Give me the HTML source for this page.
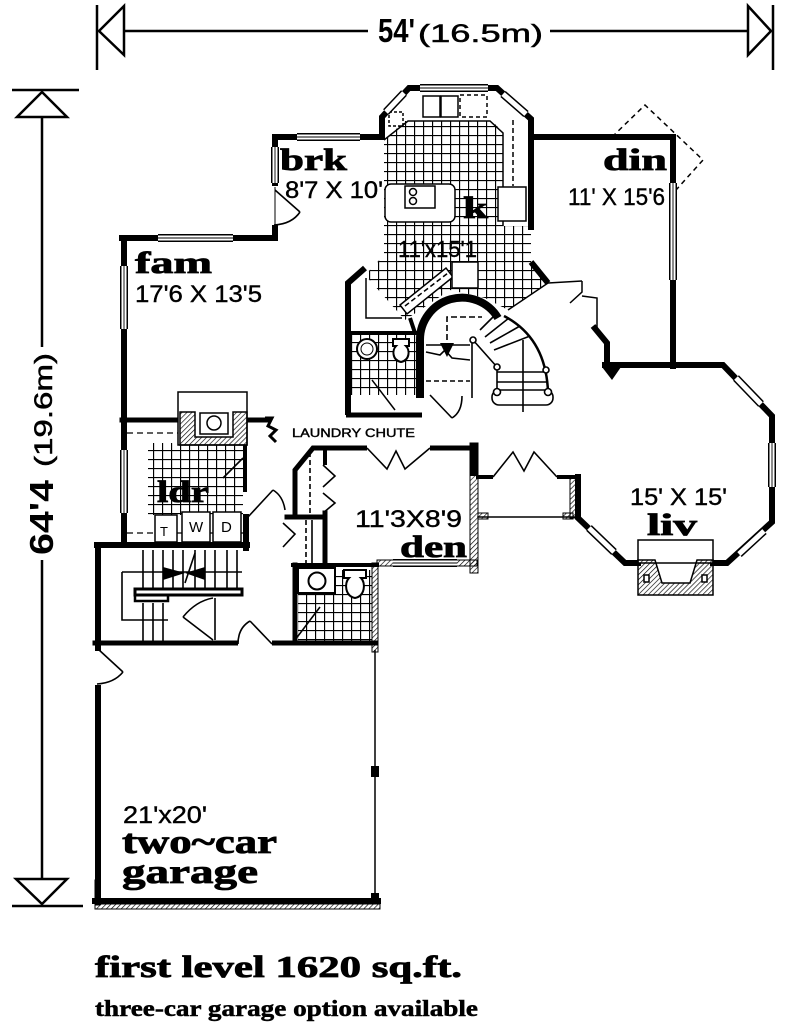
<!DOCTYPE html>
<html><head><meta charset="utf-8"><style>
html,body{margin:0;padding:0;background:#fff;}
svg{display:block;}
.s{font-family:"Liberation Sans",sans-serif;}
.b{font-family:"Liberation Serif",serif;font-weight:bold;}
</style></head><body>
<svg width="800" height="1033" viewBox="0 0 800 1033" xmlns="http://www.w3.org/2000/svg">
<defs>
<pattern id="tile" width="9" height="9" patternUnits="userSpaceOnUse"><path d="M0 0.5H9M0.5 0V9" stroke="#000" stroke-width="1.3" fill="none"/></pattern>
<pattern id="hatch" width="3.5" height="3.5" patternUnits="userSpaceOnUse" patternTransform="rotate(45)"><line x1="0" y1="0" x2="0" y2="3.5" stroke="#000" stroke-width="1.3"/></pattern>
</defs>
<rect width="800" height="1033" fill="#fff"/>

<!-- DIMENSIONS -->
<g stroke="#000" stroke-width="2.5" fill="none">
<line x1="97" y1="5" x2="97" y2="70"/>
<polygon points="99,31 124,6 124,55"/>
<line x1="124" y1="31" x2="368" y2="31"/>
<line x1="550" y1="31" x2="748" y2="31"/>
<polygon points="748,6 748,55 771,31"/>
<line x1="773" y1="5" x2="773" y2="70"/>
<line x1="12" y1="90" x2="79" y2="90"/>
<polygon points="42,92 17,117 67,117"/>
<line x1="42" y1="117" x2="42" y2="347"/>
<line x1="42" y1="560" x2="42" y2="879"/>
<polygon points="16,879 67,879 42,904"/>
<line x1="12" y1="906" x2="83" y2="906"/>
</g>
<text class="s" x="378" y="42" font-size="33" font-weight="bold" textLength="37" lengthAdjust="spacingAndGlyphs">54'</text>
<text class="s" x="418" y="42" font-size="25" stroke="#000" stroke-width="0.5" textLength="125" lengthAdjust="spacingAndGlyphs">(16.5m)</text>
<g transform="translate(53,555) rotate(-90)">
<text class="s" x="0" y="0" font-size="33" font-weight="bold" textLength="75" lengthAdjust="spacingAndGlyphs">64'4</text>
<text class="s" x="88" y="-1" font-size="25" stroke="#000" stroke-width="0.5" textLength="114" lengthAdjust="spacingAndGlyphs">(19.6m)</text>
</g>

<!-- TILED AREAS -->
<polygon fill="url(#tile)" points="384,140 405,121 492,121 503,132 503,226 531,226 531,262 547,283 508,310 485,298 450,290 420,310 405,320 365,275 384,255"/>
<rect x="351" y="335" width="66" height="60" fill="url(#tile)"/>
<rect x="148" y="443" width="95" height="72" fill="url(#tile)"/>
<rect x="298" y="570" width="74" height="71" fill="url(#tile)"/>

<!-- KITCHEN DETAILS -->
<g stroke="#000" fill="#fff" stroke-width="1.5">
<path d="M384,140 L408,121 H490 L503,133 V226" fill="none"/>
<rect x="385" y="184" width="70" height="38" rx="6"/>
<rect x="405" y="186" width="30" height="22" fill="#fff"/>
<circle cx="413" cy="192" r="3.5"/><circle cx="413" cy="201" r="3.5"/>
<rect x="423" y="96" width="17" height="21"/><rect x="441" y="96" width="17" height="21"/>
<rect x="460" y="95" width="27" height="22" stroke-dasharray="4,3"/>
<rect x="498" y="187" width="28" height="34"/>
<line x1="513" y1="120" x2="513" y2="186" stroke-dasharray="5,3"/>
<polygon points="400,305 446,268 453,277 407,314"/>
<line x1="405" y1="306" x2="448" y2="273" stroke-dasharray="5,3"/>
<rect x="452" y="262" width="26" height="26"/>
<rect x="389" y="112" width="14" height="14" fill="none" stroke-dasharray="3,2"/>
</g>
<!-- kitchen/powder room walls -->
<g stroke="#000" fill="none">
<path d="M420,398 V340 A42,42 0 0 1 498,318" stroke-width="8"/>
<path d="M348,415 V283 L365,268" stroke-width="6"/>
<line x1="350" y1="333" x2="418" y2="333" stroke-width="4"/>
<line x1="346" y1="415" x2="422" y2="415" stroke-width="5"/>
<polyline points="366,278 366,318 402,318" stroke-width="1.5"/>
<line x1="410" y1="318" x2="415" y2="333" stroke-width="4"/>
<path d="M531,262 L548,283" stroke-width="6"/>
<line x1="548" y1="283" x2="508" y2="310" stroke-width="1.5"/>
<polyline points="548,283 582,281" stroke-width="1.5"/>
<polyline points="570,303 582,292 582,281" stroke-width="1.5"/>
<polyline points="582,296 597,298 597,328" stroke-width="1.5"/>
<path d="M593,326 L607,343 V365" stroke-width="6"/>
</g>
<polygon points="602,367 621,367 612,380" fill="#000"/>
<!-- powder fixtures -->
<g stroke="#000" fill="#fff" stroke-width="2">
<circle cx="367" cy="349" r="10"/><circle cx="367" cy="349" r="6" stroke-width="1"/>
<path d="M393,339 h16 v7 h-3 c4,4 4,14 -5,16 c-9,-2 -9,-12 -5,-16 h-3z"/>
</g>
<line x1="372" y1="380" x2="395" y2="410" stroke="#000" stroke-width="1.5"/>
<!-- stairs -->
<g stroke="#000" fill="none" stroke-width="1.6">
<line x1="426" y1="345" x2="470" y2="345"/>
<line x1="426" y1="381" x2="470" y2="381" stroke-dasharray="5,3"/>
<polyline points="426,352 440,355 445,350 452,358 470,360"/>
<polyline points="447,340 447,317 482,317" stroke-dasharray="6,3"/>
<line x1="472" y1="340" x2="472" y2="398"/>
<line x1="473" y1="340" x2="497" y2="367"/>
<line x1="497" y1="367" x2="497" y2="392"/>
<path d="M504,316 Q546,338 548,392" stroke-width="2.5"/>
<line x1="480" y1="330" x2="497" y2="313"/>
<line x1="485" y1="337" x2="509" y2="318"/>
<line x1="490" y1="343" x2="520" y2="326"/>
<line x1="494" y1="350" x2="530" y2="336"/>
<line x1="497" y1="372" x2="546" y2="372"/>
<line x1="497" y1="382" x2="548" y2="382"/>
<line x1="523" y1="340" x2="523" y2="412"/>
<rect x="492" y="390" width="61" height="15" rx="7"/>
<circle cx="473" cy="340" r="3" fill="#fff"/><circle cx="497" cy="367" r="3" fill="#fff"/>
<circle cx="497" cy="392" r="3.5" fill="#fff"/><circle cx="548" cy="392" r="3.5" fill="#fff"/>
<circle cx="546" cy="370" r="3" fill="#fff"/>
<line x1="430" y1="395" x2="452" y2="418"/>
<path d="M462,396 Q462,412 452,418"/>
</g>
<polygon points="440,343 454,343 447,357" fill="#000"/>

<!-- EXTERIOR / MAIN WALLS -->
<g stroke="#000" fill="none" stroke-linecap="square" stroke-linejoin="miter">
<path d="M124,239 V545" stroke-width="6"/>
<path d="M122,238 H275 V137 H382 V117 L409,88 H497 L531,119 V227" stroke-width="6"/>
<path d="M531,137 H673 V366" stroke-width="6"/>
<path d="M605,365 H723 L772,416 V522 L727,563 H713" stroke-width="6"/>
<path d="M638,563 H625 L578,518 V477" stroke-width="6"/>
<path d="M97,545 H247" stroke-width="6"/>
<path d="M98,545 V902" stroke-width="6"/>
<path d="M95,643 H375" stroke-width="5"/>
<path d="M95,901 H378" stroke-width="6"/>
<path d="M122,420 H178" stroke-width="5"/>
<path d="M245,447 V490" stroke-width="4"/>
<path d="M246,517 V548" stroke-width="6"/>
<path d="M323,448 H367 M430,448 H472" stroke-width="5"/>
<path d="M325,513 V565" stroke-width="5"/>
<path d="M325,448 V463" stroke-width="4"/>
<path d="M295,517 V470 L313,448 H325" stroke-width="5"/>
<path d="M287,517 H325" stroke-width="5"/>
<path d="M295,565 V643" stroke-width="5"/>
<path d="M293,565 H377" stroke-width="4"/>
<path d="M478,477 H493 M557,477 H578" stroke-width="4"/>
<path d="M478,517 H575" stroke-width="1.5"/>
<path d="M247,420 H268" stroke-width="5"/>
</g>
<!-- laundry chute symbol -->
<polyline points="265,418 272,418 268,426 276,430 270,436 276,442" fill="none" stroke="#000" stroke-width="3"/>
<!-- hatched walls -->
<g stroke="#000" stroke-width="1">
<rect x="470" y="443" width="8" height="130" fill="url(#hatch)"/>
<rect x="377" y="560" width="100" height="6" fill="url(#hatch)"/>
<rect x="372" y="563" width="6" height="89" fill="url(#hatch)"/>
<rect x="570" y="477" width="9" height="41" fill="url(#hatch)"/>
<rect x="478" y="513" width="10" height="6" fill="url(#hatch)"/>
<rect x="563" y="513" width="10" height="6" fill="url(#hatch)"/>
<rect x="95" y="904" width="285" height="5" fill="url(#hatch)"/>
<rect x="95" y="880" width="5" height="25" fill="url(#hatch)"/>
</g>
<rect x="470" y="443" width="8" height="33" fill="#000"/>
<rect x="371" y="766" width="8" height="11" fill="#000"/>
<rect x="371" y="893" width="8" height="10" fill="#000"/>
<line x1="375" y1="650" x2="375" y2="898" stroke="#000" stroke-width="1.5"/>

<!-- WINDOWS (double-line) -->
<g fill="none" stroke-linecap="butt">
<g stroke="#000" stroke-width="8">
<path d="M158,238 H233"/><path d="M297,137 H360"/><path d="M275,147 V183"/>
<path d="M124,266 V329"/><path d="M124,450 V513"/>
<path d="M420,88 H488"/><path d="M386,112 L404,93"/><path d="M503,94 L526,114"/>
<path d="M673,183 V280"/><path d="M736,378 L761,404"/><path d="M772,443 V487"/>
<path d="M764,531 L739,554"/><path d="M614,552 L589,528"/><path d="M393,563 H457"/>
</g>
<g stroke="#fff" stroke-width="5">
<path d="M158,238 H233"/><path d="M297,137 H360"/><path d="M275,147 V183"/>
<path d="M124,266 V329"/><path d="M124,450 V513"/>
<path d="M420,88 H488"/><path d="M386,112 L404,93"/><path d="M503,94 L526,114"/>
<path d="M673,183 V280"/><path d="M736,378 L761,404"/><path d="M772,443 V487"/>
<path d="M764,531 L739,554"/><path d="M614,552 L589,528"/><path d="M393,563 H457"/>
</g>
<g stroke="#000" stroke-width="0.9">
<path d="M158,238 H233"/><path d="M297,137 H360"/><path d="M275,147 V183"/>
<path d="M124,266 V329"/><path d="M124,450 V513"/>
<path d="M420,88 H488"/><path d="M673,183 V280"/><path d="M772,443 V487"/><path d="M393,563 H457"/>
</g>
</g>

<!-- DOOR OPENINGS (white gaps) + swings -->
<rect x="271" y="186" width="9" height="39" fill="#fff"/>
<rect x="94" y="651" width="9" height="34" fill="#fff"/>
<rect x="238" y="639" width="34" height="8" fill="#fff"/>
<rect x="367" y="444" width="63" height="8" fill="#fff"/>
<rect x="493" y="473" width="64" height="8" fill="#fff"/>
<g stroke="#000" fill="none" stroke-width="1.6">
<line x1="275" y1="190" x2="300" y2="212"/><path d="M300,212 Q292,224 274,225"/>
<line x1="275" y1="187" x2="275" y2="225" stroke-width="1"/>
<line x1="98" y1="649" x2="123" y2="672"/><path d="M123,672 Q114,683 97,684"/>
<line x1="272" y1="644" x2="250" y2="621"/><path d="M250,621 Q238,628 238,644"/>
<polyline points="367,448 387,469 396,451 405,469 430,448"/>
<polyline points="493,477 513,452 524,471 534,452 557,477"/>
<line x1="248" y1="517" x2="273" y2="490"/><path d="M273,490 Q283,496 285,510"/>
<line x1="223" y1="478" x2="243" y2="458"/>
<polyline points="323,465 335,476 323,487" />
<polyline points="323,493 335,503 323,513"/>
<polyline points="283,523 295,534 283,547"/>
<line x1="310" y1="452" x2="310" y2="513" stroke-dasharray="5,3"/>
<line x1="306" y1="520" x2="306" y2="563" stroke-dasharray="5,3"/>
<line x1="312" y1="520" x2="312" y2="563"/>
<line x1="295" y1="640" x2="320" y2="607"/>
<line x1="213" y1="640" x2="183" y2="617"/><path d="M183,617 Q196,601 213,598"/>
<line x1="215" y1="598" x2="215" y2="640"/>
</g>

<!-- LAUNDRY -->
<g stroke="#000" fill="none">
<rect x="178" y="392" width="69" height="53" fill="#fff" stroke-width="1.5"/>
<path d="M180,412 H195 V437 H233 V412 H247 V445 H180 Z" fill="url(#hatch)" stroke-width="1.5"/>
<rect x="200" y="413" width="28" height="21" stroke-width="1.5"/>
<circle cx="214" cy="423" r="7" stroke-width="1.5"/>
<line x1="127" y1="433" x2="178" y2="433" stroke-dasharray="6,4" stroke-width="1.3"/>
<line x1="127" y1="533" x2="243" y2="533" stroke-dasharray="6,4" stroke-width="1.3"/>
<g fill="#fff" stroke-width="1.5">
<rect x="155" y="515" width="22" height="27"/>
<rect x="182" y="512" width="28" height="30"/>
<rect x="213" y="512" width="28" height="30"/>
</g>
</g>
<text class="s" x="160" y="536" font-size="13">T</text>
<text class="s" x="189" y="532" font-size="15">W</text>
<text class="s" x="221" y="532" font-size="15">D</text>

<!-- STAIRS (laundry) -->
<g stroke="#000" fill="none" stroke-width="1.6">
<path d="M143,550V590M153,550V590M163,550V590M173,550V590M183,550V590M195,550V590M205,550V590M215,550V590M227,550V590M237,550V590"/>
<path d="M143,603V643M153,603V643M163,603V643"/>
<rect x="135" y="589" width="107" height="6" stroke-width="3"/>
<rect x="135" y="595" width="33" height="6" stroke-width="2.5"/>
<polyline points="122,572 122,620 168,620"/>
<line x1="122" y1="572" x2="242" y2="572"/>
<line x1="195" y1="553" x2="185" y2="583"/>
</g>
<polygon points="163,567 185,573 163,580" fill="#000"/>
<polygon points="205,567 185,573 205,580" fill="#000"/>

<!-- BATH fixtures -->
<g stroke="#000" fill="#fff" stroke-width="2">
<rect x="298" y="568" width="37" height="25"/>
<circle cx="317" cy="581" r="8.5"/>
<path d="M344,570 h22 v8 h-5 c5,5 4,18 -6,20 c-10,-2 -11,-15 -6,-20 h-5z"/>
</g>

<!-- GARAGE bits -->
<g fill="#000"><rect x="96" y="898" width="284" height="5"/></g>

<!-- LABELS -->
<g class="b" fill="#000" stroke="#000" stroke-width="0.8">
<text x="280" y="170" font-size="31" textLength="67" lengthAdjust="spacingAndGlyphs">brk</text>
<text x="135" y="273" font-size="31" textLength="77" lengthAdjust="spacingAndGlyphs">fam</text>
<text x="603" y="170" font-size="31" textLength="64" lengthAdjust="spacingAndGlyphs">din</text>
<text x="463" y="218" font-size="31" textLength="25" lengthAdjust="spacingAndGlyphs">k</text>
<text x="157" y="502" font-size="31" textLength="52" lengthAdjust="spacingAndGlyphs">ldr</text>
<text x="400" y="557" font-size="31" textLength="67" lengthAdjust="spacingAndGlyphs">den</text>
<text x="647" y="535" font-size="31" textLength="50" lengthAdjust="spacingAndGlyphs">liv</text>
<text x="122" y="853" font-size="34" textLength="155" lengthAdjust="spacingAndGlyphs">two~car</text>
<text x="122" y="883" font-size="34" textLength="136" lengthAdjust="spacingAndGlyphs">garage</text>
<text x="95" y="977" font-size="31" textLength="367" lengthAdjust="spacingAndGlyphs">first level 1620 sq.ft.</text>
<text x="95" y="1016" font-size="23" stroke-width="0.5" textLength="383" lengthAdjust="spacingAndGlyphs">three-car garage option available</text>
</g>
<g class="s" fill="#000" stroke="#000" stroke-width="0.4">
<text x="285" y="198" font-size="24" textLength="98" lengthAdjust="spacingAndGlyphs">8'7 X 10'</text>
<text x="135" y="302" font-size="24" textLength="127" lengthAdjust="spacingAndGlyphs">17'6 X 13'5</text>
<text x="568" y="205" font-size="24" textLength="97" lengthAdjust="spacingAndGlyphs">11' X 15'6</text>
<text x="398" y="257" font-size="23" textLength="79" lengthAdjust="spacingAndGlyphs">11'x15'1</text>
<text x="355" y="527" font-size="24" textLength="107" lengthAdjust="spacingAndGlyphs">11'3X8'9</text>
<text x="630" y="505" font-size="24" textLength="97" lengthAdjust="spacingAndGlyphs">15' X 15'</text>
<text x="123" y="823" font-size="24" textLength="84" lengthAdjust="spacingAndGlyphs">21'x20'</text>
<text x="292" y="437" font-size="12" textLength="123" lengthAdjust="spacingAndGlyphs">LAUNDRY CHUTE</text>
</g>

<!-- din bay (dashed) and liv fireplace -->
<polyline points="612,137 645,105 703,160 676,190" fill="none" stroke="#000" stroke-width="1.5" stroke-dasharray="5,4"/>
<g stroke="#000" stroke-width="1.5">
<rect x="638" y="540" width="75" height="23" fill="#fff"/>
<path d="M638,560 H655 L662,583 H690 L697,560 H713 V595 H638 Z" fill="url(#hatch)"/>
<rect x="644" y="575" width="5" height="7" fill="#fff"/>
<rect x="702" y="575" width="5" height="7" fill="#fff"/>
</g>
</svg>
</body></html>
